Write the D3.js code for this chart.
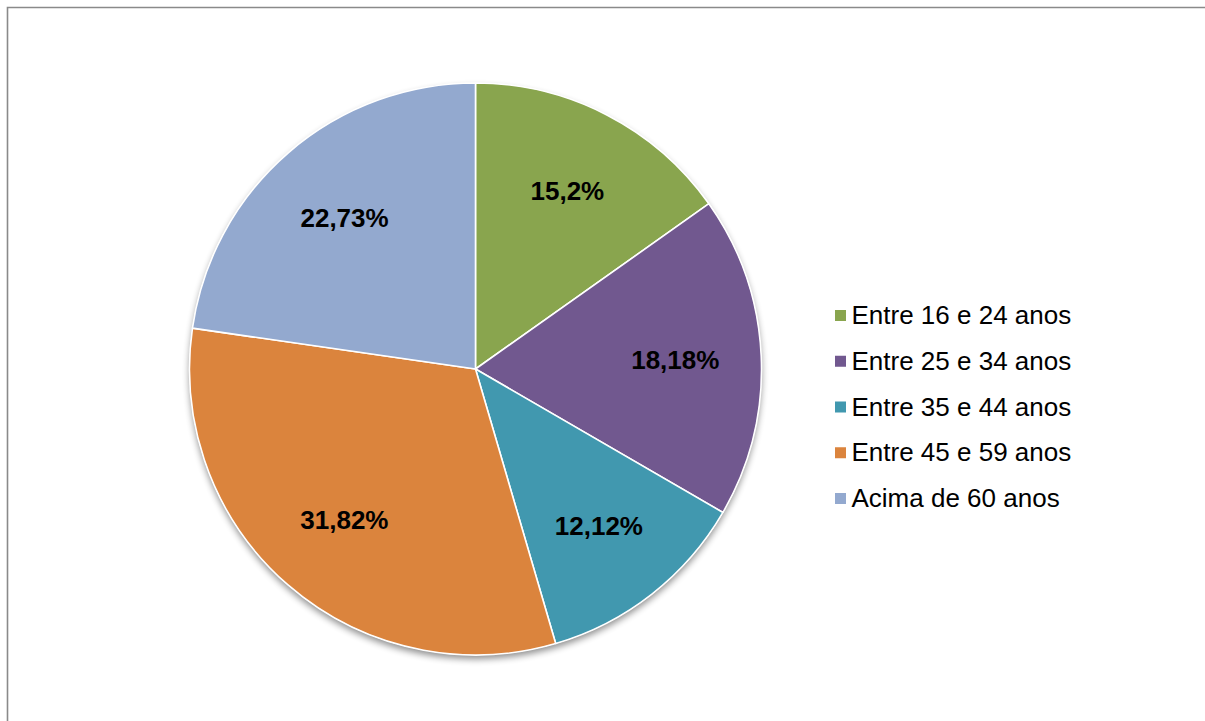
<!DOCTYPE html>
<html>
<head>
<meta charset="utf-8">
<script src="https://cdn.jsdelivr.net/npm/d3@7"></script>
<style>
  html, body { margin: 0; padding: 0; background: #fff; }
  svg { display: block; }
</style>
</head>
<body>
<svg id="chart" width="1205" height="721"></svg>
<script>
const categories = ["Entre 16 e 24 anos", "Entre 25 e 34 anos", "Entre 35 e 44 anos", "Entre 45 e 59 anos", "Acima de 60 anos"];
const values = [15.2, 18.18, 12.12, 31.82, 22.73];
const labels = ["15,2%", "18,18%", "12,12%", "31,82%", "22,73%"];
const colors = ["#89A54E", "#71588F", "#4198AF", "#DB843D", "#93A9CF"];

const svg = d3.select("#chart");
const W = 1205, H = 721;
const cx = 475.5, cy = 369, R = 286;

// border (frame partly cut off)
svg.append("path")
  .attr("d", `M7.5,${H + 2} L7.5,7.5 L${W + 2},7.5`)
  .attr("fill", "none")
  .attr("stroke", "#8a8a8a")
  .attr("stroke-width", 1.6);

const defs = svg.append("defs");
const f = defs.append("filter").attr("id", "shadow")
  .attr("x", "-10%").attr("y", "-10%").attr("width", "120%").attr("height", "125%");
f.append("feGaussianBlur").attr("in", "SourceAlpha").attr("stdDeviation", 3.5).attr("result", "blur");
f.append("feOffset").attr("in", "blur").attr("dx", 0).attr("dy", 4).attr("result", "off");
f.append("feComponentTransfer").attr("in", "off").attr("result", "sh")
  .append("feFuncA").attr("type", "linear").attr("slope", 0.45);
const merge = f.append("feMerge");
merge.append("feMergeNode").attr("in", "sh");
merge.append("feMergeNode").attr("in", "SourceGraphic");

const pie = d3.pie().sort(null).value(d => d)(values);
const arc = d3.arc().innerRadius(0).outerRadius(R);
const labelArc = d3.arc().innerRadius(200).outerRadius(200);

const g = svg.append("g").attr("transform", `translate(${cx},${cy})`);

// shadow base
g.append("circle").attr("r", R).attr("fill", "#fff").attr("filter", "url(#shadow)");

g.selectAll("path.slice").data(pie).enter().append("path")
  .attr("class", "slice")
  .attr("d", arc)
  .attr("fill", (d, i) => colors[i])
  .attr("stroke", "#fff")
  .attr("stroke-width", 1.6)
  .attr("stroke-linejoin", "round");

g.selectAll("text.lbl").data(pie).enter().append("text")
  .attr("class", "lbl")
  .attr("transform", d => { const c = labelArc.centroid(d); return `translate(${c[0]},${c[1] + 9})`; })
  .attr("text-anchor", "middle")
  .attr("font-family", "Liberation Sans, Arial, sans-serif")
  .attr("font-weight", "bold")
  .attr("font-size", 26)
  .attr("fill", "#000")
  .text((d, i) => labels[i]);

// legend
const lg = svg.append("g").attr("transform", "translate(835,0)");
const rowY = d3.scalePoint().domain(categories).range([315, 498]);
categories.forEach((c, i) => {
  const y = rowY(c);
  lg.append("rect").attr("x", 0).attr("y", y - 5).attr("width", 11).attr("height", 11).attr("fill", colors[i]);
  lg.append("text").attr("x", 16.5).attr("y", y + 9)
    .attr("font-family", "Liberation Sans, Arial, sans-serif")
    .attr("font-size", 26)
    .attr("fill", "#000")
    .text(c);
});
</script>
</body>
</html>
